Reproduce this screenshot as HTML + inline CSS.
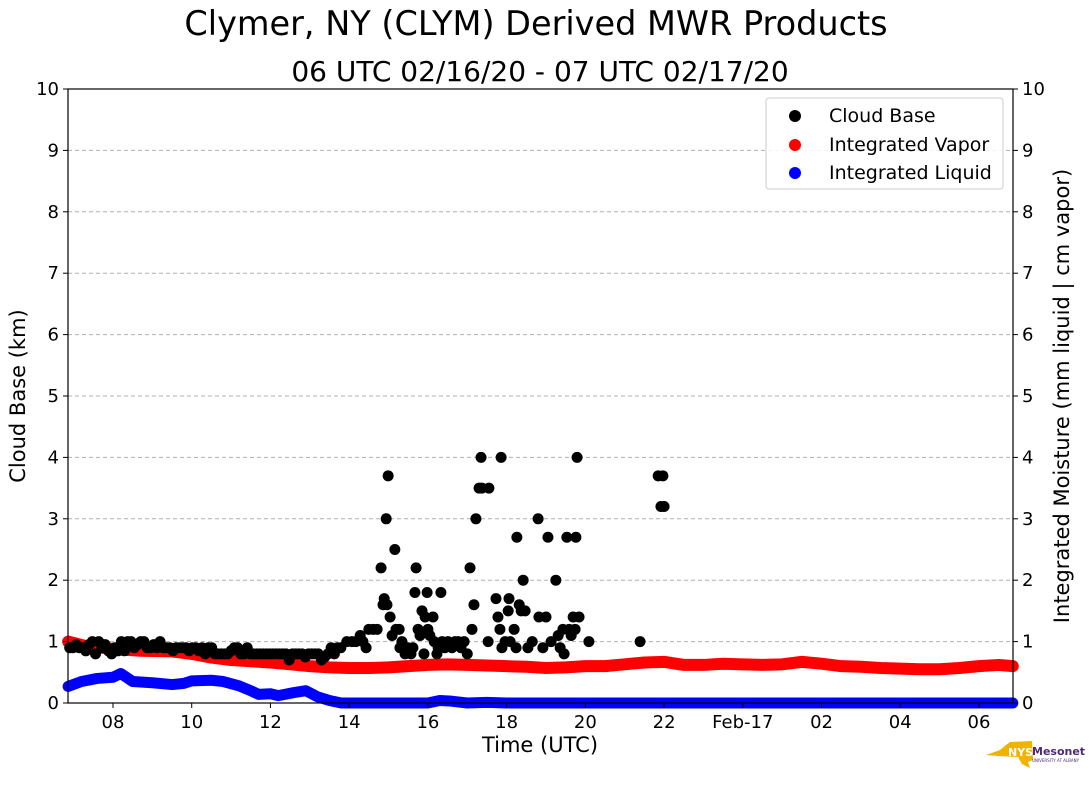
<!DOCTYPE html>
<html><head><meta charset="utf-8"><style>
html,body{margin:0;padding:0;background:#fff;}
svg text{font-family:"DejaVu Sans","Liberation Sans",sans-serif;}
</style></head><body>
<svg id="chart" width="1089" height="804" xmlns="http://www.w3.org/2000/svg">
<text x="536" y="35" font-size="33.5" text-anchor="middle">Clymer, NY (CLYM) Derived MWR Products</text>
<text x="540" y="81" font-size="28" text-anchor="middle">06 UTC 02/16/20 - 07 UTC 02/17/20</text>
<g id="grid"></g>
<g id="vapor"></g>
<g id="liquid"></g>
<g id="cloud"></g>
<rect x="68" y="89" width="945" height="614" fill="none" stroke="#000" stroke-width="1.2"/>
<g id="axes"></g>
<text x="540" y="752" font-size="21" text-anchor="middle">Time (UTC)</text>
<text transform="translate(25,396) rotate(-90)" font-size="21" text-anchor="middle">Cloud Base (km)</text>
<text transform="translate(1069,396) rotate(-90)" font-size="21" text-anchor="middle">Integrated Moisture (mm liquid | cm vapor)</text>
<g>
<rect x="766" y="98" width="237" height="91" rx="3" fill="#fff" fill-opacity="0.85" stroke="#ccc"/>
<g><circle cx="795" cy="116" r="6" fill="#000"/><text x="829" y="122" font-size="19">Cloud Base</text></g>
<g><circle cx="795" cy="145" r="6" fill="#f00"/><text x="829" y="151" font-size="19">Integrated Vapor</text></g>
<g><circle cx="795" cy="173" r="6" fill="#00f"/><text x="829" y="179" font-size="19">Integrated Liquid</text></g>
</g>
<g>
<polygon points="986,755 1000,750 1006,745 1010,742 1032,741 1033,760 1028,762 1030,768 1022,764 1018,757 998,756" fill="#f0b400"/>
<text x="1008" y="756" font-size="11" font-weight="bold" fill="#fff">NYS</text>
<text x="1032" y="755" font-size="11" font-weight="bold" fill="#4b2a7b">Mesonet</text>
<text x="1032" y="762" font-size="4" fill="#4b2a7b">UNIVERSITY AT ALBANY</text>
</g>
</svg>
<script>
const xTickHours=[8,10,12,14,16,18,20,22,24,26,28,30];
const xTickLabels=["08","10","12","14","16","18","20","22","Feb-17","02","04","06"];
const yTicks=[0,1,2,3,4,5,6,7,8,9,10];
const bandStart=6.9, bandStep=0.1;
const cloudBandValues=[0.9,0.9,0.95,0.9,0.9,0.85,0.95,1.0,0.8,1.0,0.9,0.95,0.85,0.8,0.9,0.85,1.0,0.85,1.0,1.0,0.9,0.95,1.0,1.0,0.9,0.9,0.95,0.9,1.0,0.9,0.9,0.9,0.85,0.9,0.9,0.9,0.9,0.85,0.9,0.9,0.85,0.9,0.8,0.9,0.9,0.8,0.8,0.8,0.8,0.8,0.85,0.9,0.9,0.8,0.8,0.9,0.8,0.8,0.8,0.8,0.8,0.8,0.8,0.8,0.8,0.8,0.8,0.8,0.7,0.8,0.8,0.8,0.8,0.75,0.8,0.8,0.8,0.8,0.7,0.75,0.8,0.9,0.8,0.9,0.9];
const cloudHours=[13.94,14.07,14.17,14.28,14.35,14.43,14.50,14.61,14.71,14.81,14.86,14.89,14.96,14.99,14.94,15.04,15.09,15.16,15.19,15.27,15.29,15.34,15.42,15.49,15.57,15.62,15.67,15.70,15.75,15.80,15.85,15.90,15.93,15.98,16.00,16.05,16.13,16.16,16.23,16.26,16.33,16.36,16.43,16.51,16.61,16.69,16.77,16.84,16.92,17.00,17.07,17.12,17.17,17.22,17.30,17.35,17.37,17.55,17.53,17.73,17.78,17.83,17.86,17.88,17.96,18.04,18.06,18.09,18.19,18.24,18.26,18.32,18.37,18.42,18.47,18.54,18.65,18.80,18.82,18.92,19.00,19.05,19.13,19.25,19.31,19.36,19.43,19.46,19.53,19.59,19.64,19.69,19.74,19.76,19.79,19.84,20.09,21.39,21.85,21.97,21.92,22.00];
const cloudKm=[1.0,1.0,1.0,1.1,1.0,0.9,1.2,1.2,1.2,2.2,1.6,1.7,1.6,3.7,3.0,1.4,1.1,2.5,1.2,1.2,0.9,1.0,0.8,0.9,0.8,0.9,1.8,2.2,1.2,1.1,1.5,0.8,1.4,1.8,1.2,1.1,1.4,1.0,0.8,0.9,1.8,1.0,0.9,1.0,0.9,1.0,1.0,0.9,1.0,0.8,2.2,1.2,1.6,3.0,3.5,4.0,3.5,3.5,1.0,1.7,1.4,1.2,4.0,0.9,1.0,1.5,1.7,1.0,1.2,0.9,2.7,1.6,1.5,2.0,1.5,0.9,1.0,3.0,1.4,0.9,1.4,2.7,1.0,2.0,1.1,0.9,1.2,0.8,2.7,1.2,1.1,1.4,1.2,2.7,4.0,1.4,1.0,1.0,3.7,3.7,3.2,3.2];
const vaporHours=[6.86,7.3,8,8.7,9.5,10,10.5,11,11.5,12,12.5,13,13.5,14,14.5,15,15.5,16,16.5,17,17.5,18,18.5,19,19.5,20,20.5,21,21.5,22,22.5,23,23.5,24,24.5,25,25.5,26,26.5,27,27.5,28,28.5,29,29.5,30,30.5,30.86];
const vaporValues=[1.0,0.93,0.88,0.85,0.84,0.8,0.74,0.7,0.68,0.66,0.63,0.6,0.58,0.57,0.57,0.58,0.6,0.62,0.63,0.62,0.61,0.6,0.59,0.57,0.58,0.6,0.6,0.63,0.66,0.67,0.62,0.62,0.64,0.63,0.62,0.63,0.67,0.64,0.6,0.59,0.57,0.56,0.55,0.55,0.57,0.6,0.62,0.6];
const liquidHours=[6.86,7.2,7.6,8.0,8.2,8.5,9.0,9.5,9.8,10.0,10.5,10.8,11.2,11.5,11.7,12.0,12.2,12.6,12.9,13.2,13.5,13.8,16.0,16.3,16.6,17.0,17.5,18.0,22,26,30.86];
const liquidValues=[0.27,0.35,0.4,0.42,0.48,0.35,0.33,0.3,0.32,0.36,0.37,0.35,0.28,0.2,0.14,0.15,0.12,0.17,0.2,0.1,0.04,0.0,0.0,0.04,0.03,0.0,0.01,0.0,0.0,0.0,0.0];

const X0=68,X1=1013,Y0=703,Y1=89,H0=6.857,H1=30.864;
const xs=h=>X0+(h-H0)/(H1-H0)*(X1-X0);
const ys=v=>Y0-v/10*(Y0-Y1);
const NS="http://www.w3.org/2000/svg";
function mk(tag,parent,attrs){const e=document.createElementNS(NS,tag);for(const k in attrs)e.setAttribute(k,attrs[k]);parent.appendChild(e);return e;}
const grid=document.getElementById('grid'),axes=document.getElementById('axes');
yTicks.forEach(v=>{
  if(v>0&&v<10){const l=mk('line',grid,{x1:X0,x2:X1,y1:ys(v),y2:ys(v),stroke:'#b0b0b0','stroke-dasharray':'4,3'});
  
  }
  const t1=mk('line',axes,{x1:X0-5,x2:X0,y1:ys(v),y2:ys(v),stroke:'#000'});
  
  
  const t2=mk('line',axes,{x1:X1,x2:X1+5,y1:ys(v),y2:ys(v),stroke:'#000'});
  
  
  const a=mk('text',axes,{x:X0-9,y:ys(v)+6,'font-size':18,'text-anchor':'end'});a.textContent=v;
  
  
  const b=mk('text',axes,{x:X1+9,y:ys(v)+6,'font-size':18});b.textContent=v;
  
  
});
xTickHours.forEach((h,i)=>{
  const t=mk('line',axes,{x1:xs(h),x2:xs(h),y1:Y0,y2:Y0+5,stroke:'#000'});
  
  
  const l=mk('text',axes,{x:xs(h),y:Y0+25,'font-size':18,'text-anchor':'middle'});l.textContent=xTickLabels[i];
  
  
});
function line(g,hs,vs,color,w){
  const p=mk('polyline',g,{points:hs.map((h,i)=>xs(h)+','+ys(vs[i])).join(' '),fill:'none',stroke:color,'stroke-width':w,'stroke-linejoin':'round','stroke-linecap':'round'});
  
  
}
line(document.getElementById('vapor'),vaporHours,vaporValues,'#f00',12);
line(document.getElementById('liquid'),liquidHours,liquidValues,'#00f',11);
const cg=document.getElementById('cloud');
cloudBandValues.forEach((v,i)=>{
  const c=mk('circle',cg,{cx:xs(bandStart+i*bandStep*0.82),cy:ys(v),r:5.5,fill:'#000'});
  
  
});
cloudHours.forEach((h,i)=>{
  const c=mk('circle',cg,{cx:xs(h),cy:ys(cloudKm[i]),r:5.5,fill:'#000'});
  
  
});
</script>
</body></html>
